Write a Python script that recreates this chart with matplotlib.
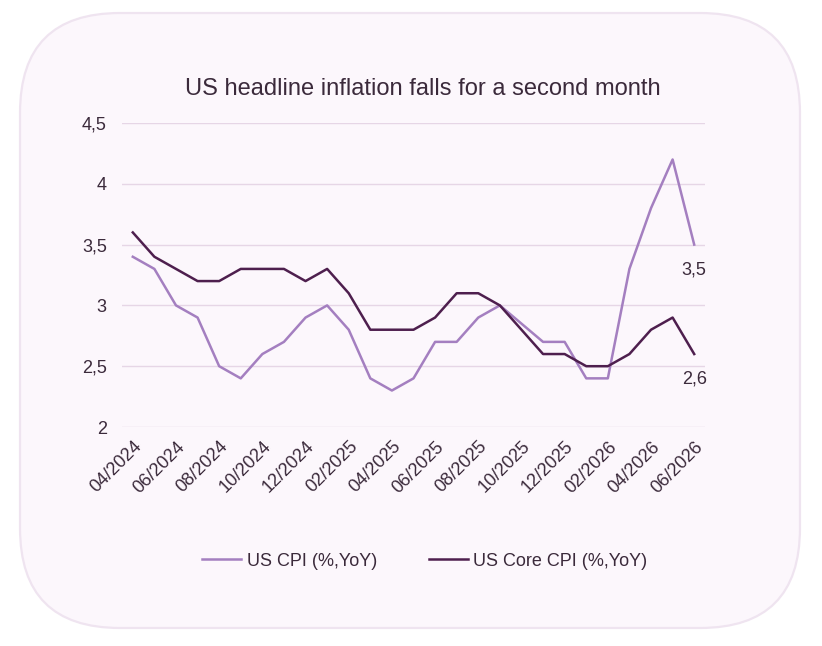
import matplotlib.pyplot as plt
import numpy as np
from matplotlib.patches import FancyBboxPatch

# monthly data, 04/2024 .. 06/2026
months = ['04/2024', '05/2024', '06/2024', '07/2024', '08/2024', '09/2024', '10/2024',
          '11/2024', '12/2024', '01/2025', '02/2025', '03/2025', '04/2025', '05/2025',
          '06/2025', '07/2025', '08/2025', '09/2025', '10/2025', '11/2025', '12/2025',
          '01/2026', '02/2026', '03/2026', '04/2026', '05/2026', '06/2026']
cpi = [3.4, 3.3, 3.0, 2.9, 2.5, 2.4, 2.6, 2.7, 2.9, 3.0, 2.8, 2.4, 2.3, 2.4,
       2.7, 2.7, 2.9, 3.0, 2.85, 2.7, 2.7, 2.4, 2.4, 3.3, 3.8, 4.2, 3.5]
core = [3.6, 3.4, 3.3, 3.2, 3.2, 3.3, 3.3, 3.3, 3.2, 3.3, 3.1, 2.8, 2.8, 2.8,
        2.9, 3.1, 3.1, 3.0, 2.8, 2.6, 2.6, 2.5, 2.5, 2.6, 2.8, 2.9, 2.6]
yticks = [2, 2.5, 3, 3.5, 4, 4.5]

plt.rcParams['font.family'] = ['Liberation Sans', 'DejaVu Sans']
txt = '#3b2a3b'
c_cpi = '#a47fc0'
c_core = '#4e1f4e'

W, H = 822, 646
fig = plt.figure(figsize=(W / 100, H / 100), dpi=100)
fig.patch.set_facecolor('white')

# rounded card background, in pixel units
bg = fig.add_axes([0, 0, 1, 1], zorder=-1)
bg.set_xlim(0, W)
bg.set_ylim(0, H)
bg.axis('off')
bg.add_patch(FancyBboxPatch((20, 18), 780, 615, boxstyle='round,pad=0,rounding_size=100',
                            facecolor='#fcf7fc', edgecolor='#efe4f0', linewidth=1.6))

ax = fig.add_axes([122 / W, 1 - 427 / H, 583 / W, 304 / H])
ax.set_facecolor('none')
x = np.arange(len(months))
ax.plot(x, cpi, color=c_cpi, lw=1.8, label='US CPI (%,YoY)')
ax.plot(x, core, color=c_core, lw=1.8, label='US Core CPI (%,YoY)')

ax.set_xlim(-0.5, len(months) - 0.5)
ax.set_ylim(2, 4.5)
ax.set_yticks(yticks)
ax.set_yticklabels([('%g' % v).replace('.', ',') for v in yticks])
ax.set_xticks(x[::2])
ax.set_xticklabels(months[::2], rotation=45, ha='right', va='top', rotation_mode='anchor')
ax.tick_params(length=0, labelsize=13, colors=txt)
ax.tick_params(axis='y', pad=11)
ax.tick_params(axis='x', pad=8)
for s in ax.spines.values():
    s.set_visible(False)
ax.grid(axis='y', color='#e6d6e6', lw=1)
ax.set_axisbelow(True)

# end labels
for vals in (cpi, core):
    ax.annotate(('%g' % vals[-1]).replace('.', ','), (x[-1], vals[-1]), xytext=(0, -25),
                textcoords='offset pixels', ha='center', va='center', fontsize=13, color=txt)

fig.text(423 / W, 1 - 89 / H, 'US headline inflation falls for a second month',
         ha='center', va='center', fontsize=17, color=txt)

leg = ax.legend(loc='center', bbox_to_anchor=(425 / W, 1 - 561 / H), bbox_transform=fig.transFigure,
                ncol=2, frameon=False, fontsize=13, handlelength=2.15, handletextpad=0.3,
                columnspacing=2.9, labelcolor=txt)

fig.savefig('out.png', dpi=100)
